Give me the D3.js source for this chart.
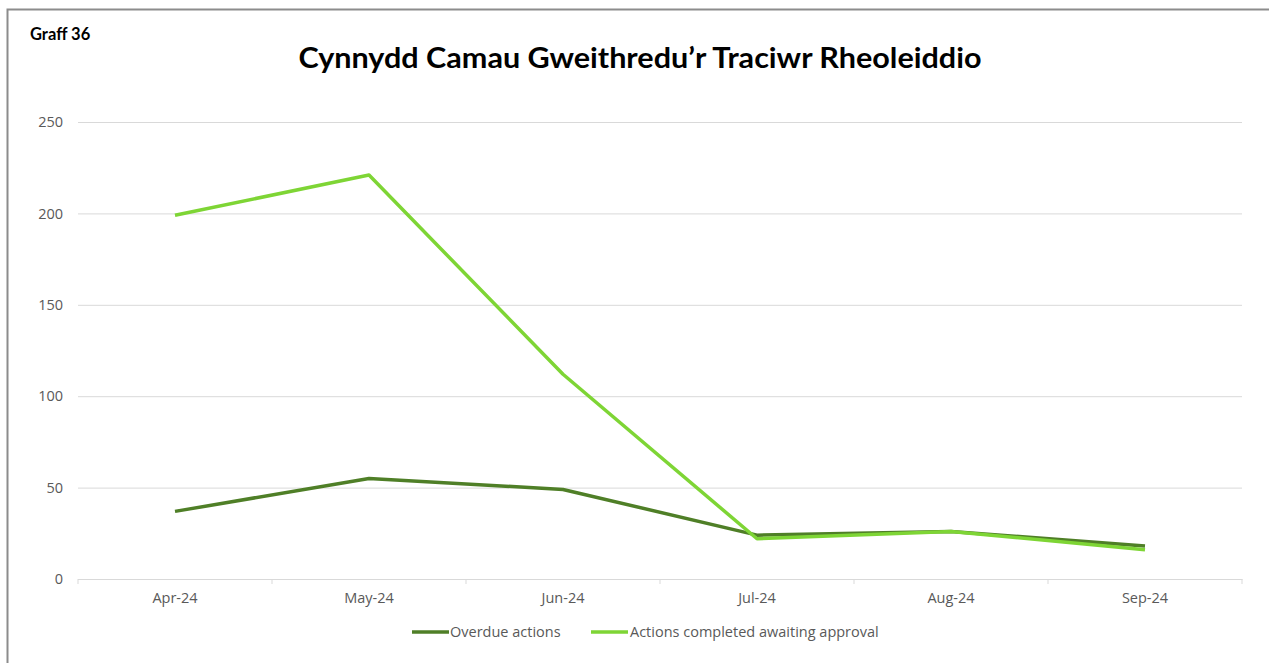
<!DOCTYPE html>
<html><head><meta charset="utf-8">
<script src="https://cdn.jsdelivr.net/npm/d3@7"></script>
<style>body{margin:0;background:#fff;} svg{display:block;}</style>
</head><body>
<svg id="c" width="1269" height="663"></svg>
<script>
const categories = ["Apr-24","May-24","Jun-24","Jul-24","Aug-24","Sep-24"];
const overdue = [37, 55, 49, 24, 26, 18];
const completed = [199, 221, 112, 22, 26, 16];
const yTicks = [0, 50, 100, 150, 200, 250];
const seriesNames = ["Overdue actions", "Actions completed awaiting approval"];
const seriesColors = ["#4f7f27", "#7ed535"];

const svg = d3.select("#c");
const W = 1269, H = 663;
const m = {left: 78, right: 1242, top: 122, bottom: 579};

// border
svg.append("path").attr("d", `M7.5,${H} V9.5 H${W}`).attr("fill","none").attr("stroke","#8c8c8c").attr("stroke-width",2);

svg.append("text").attr("x",30).attr("y",40).text("Graff 36")
  .attr("font-family","Lato, 'Open Sans', sans-serif").attr("font-weight","bold").attr("font-size",16.5).attr("fill","#000");
svg.append("text").attr("x",640).attr("y",68).attr("text-anchor","middle").text("Cynnydd Camau Gweithredu’r Traciwr Rheoleiddio")
  .attr("font-family","Lato, sans-serif").attr("font-weight","bold").attr("font-size",29).attr("fill","#000")
  .attr("textLength",683).attr("lengthAdjust","spacingAndGlyphs");

const x = d3.scaleBand().domain(categories).range([m.left, m.right]);
const y = d3.scaleLinear().domain([0,250]).range([m.bottom, m.top]);

const font = "'Open Sans', 'Noto Sans', sans-serif";
// gridlines
const yAxis = svg.append("g").attr("transform",`translate(${m.left},0)`)
  .call(d3.axisLeft(y).tickValues(yTicks).tickSize(-(m.right-m.left)).tickPadding(15));
yAxis.select(".domain").remove();
yAxis.selectAll(".tick line").attr("stroke","#d9d9d9").attr("stroke-width",1);
yAxis.selectAll(".tick text").attr("font-family",font).attr("font-size",14.5).attr("fill","#595959");

const xAxis = svg.append("g").attr("transform",`translate(0,${m.bottom})`)
  .call(d3.axisBottom(x).tickSize(0).tickPadding(14));
xAxis.select(".domain").attr("stroke","#d9d9d9");
xAxis.selectAll(".tick text").attr("font-family",font).attr("font-size",14.5).attr("fill","#595959");
// category boundary ticks
const bounds = categories.map(c => x(c)).concat([x(categories[categories.length-1]) + x.bandwidth()]);
svg.append("g").selectAll("line").data(bounds).join("line")
  .attr("x1",d=>d).attr("x2",d=>d).attr("y1",m.bottom).attr("y2",m.bottom+5)
  .attr("stroke","#d9d9d9");

const line = d3.line().x((d,i)=>x(categories[i]) + x.bandwidth()/2).y(d=>y(d));
[overdue, completed].forEach((s,i)=>{
  svg.append("path").datum(s).attr("d",line).attr("fill","none")
    .attr("stroke",seriesColors[i]).attr("stroke-width",3.5).attr("stroke-linejoin","round");
});

// legend
const leg = [{x:412, tx:450},{x:591, tx:630}];
seriesNames.forEach((n,i)=>{
  svg.append("line").attr("x1",leg[i].x).attr("x2",leg[i].x+37).attr("y1",632).attr("y2",632)
    .attr("stroke",seriesColors[i]).attr("stroke-width",3.5);
  svg.append("text").attr("x",leg[i].tx).attr("y",637).text(n)
    .attr("font-family",font).attr("font-size",14.5).attr("fill","#595959");
});
</script>
</body></html>
